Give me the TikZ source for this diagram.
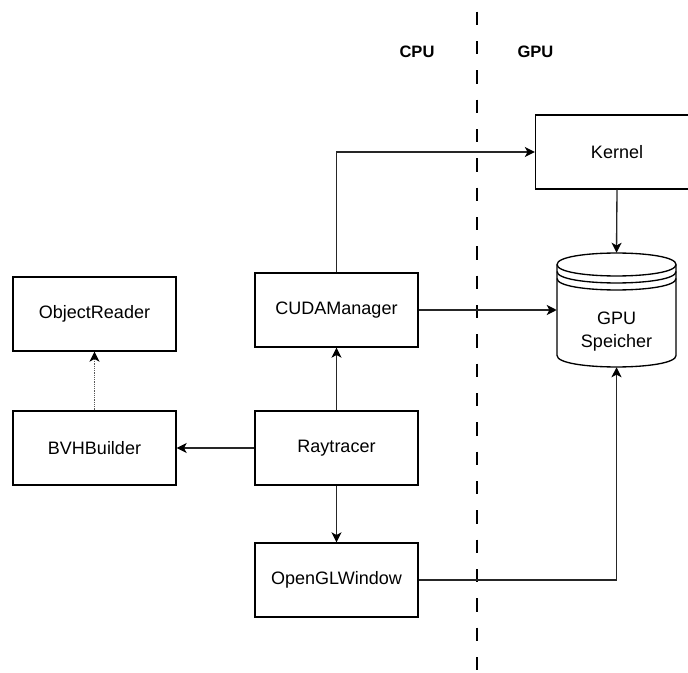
\documentclass[tikz,border=0pt]{standalone}
\usepackage{fontspec}
\setmainfont{Liberation Sans}
\usetikzlibrary{arrows.meta}
\begin{document}
\begin{tikzpicture}[x=0.75pt,y=-0.75pt,
  box/.style={draw=black,line width=1pt,minimum width=122.25pt,minimum height=55.5pt,inner sep=0pt,font=\fontsize{13.5}{16}\selectfont},
  conn/.style={draw=black!85,line width=1pt,-{Stealth[length=7.5pt,width=7.5pt,inset=2pt,color=black]}},
  lbl/.style={font=\fontsize{12.4}{15}\selectfont\bfseries}]
\clip (0,0) rectangle (688,673);
\fill[white] (0,0) rectangle (688,673);
% divider
\coordinate (dtop) at (477,11.7);
\coordinate (dbot) at (477,673);
\draw[line width=1.1pt,dash pattern=on 10pt off 12pt] (dtop) -- (dbot);
\node[lbl] (cpu) at (417,52.3) {CPU};
\node[lbl] (gpul) at (535.5,52.3) {GPU};
% boxes
\node[box] (objr) at (94.5,314) {ObjectReader};
\node[box] (bvh) at (94.5,448) {BVHBuilder};
\node[box] (cuda) at (336.5,310) {CUDAManager};
\node[box] (ray) at (336.5,448) {Raytracer};
\node[box] (ogl) at (336.5,580) {OpenGLWindow};
\node[box] (kern) at (617,152) {Kernel};
% GPU memory cylinder
\node[minimum width=89.25pt,minimum height=85.5pt,inner sep=0pt] (mem) at (616.5,310) {};
\node[align=center,font=\fontsize{13.5}{17.25}\selectfont] (memtxt) at (616.5,331.5) {GPU\\Speicher};
\draw[line width=1pt] (557,264.5) .. controls (557,249.2) and (676,249.2) .. (676,264.5)
  -- (676,355.5) .. controls (676,370.8) and (557,370.8) .. (557,355.5) -- cycle;
\draw[line width=1pt] (557,264.5) .. controls (557,279.8) and (676,279.8) .. (676,264.5);
\draw[line width=1pt] (557,271.5) .. controls (557,286.8) and (676,286.8) .. (676,271.5);
\draw[line width=1pt] (557,278.5) .. controls (557,293.8) and (676,293.8) .. (676,278.5);
% connectors
\draw[conn] (ray.north) -- (cuda.south);
\draw[conn] (ray.south) -- (ogl.north);
\draw[conn] (ray.west) -- (bvh.east);
\draw[conn,draw=black!65,dash pattern=on 0.75pt off 0.6pt] (bvh.north) -- (objr.south);
\draw[conn] (cuda.north) |- (kern.west);
\draw[conn] (cuda.east) -- (mem.west);
\draw[conn] (kern.south) -- (mem.north);
\draw[conn] (ogl.east) -| (mem.south);
\end{tikzpicture}
\end{document}
